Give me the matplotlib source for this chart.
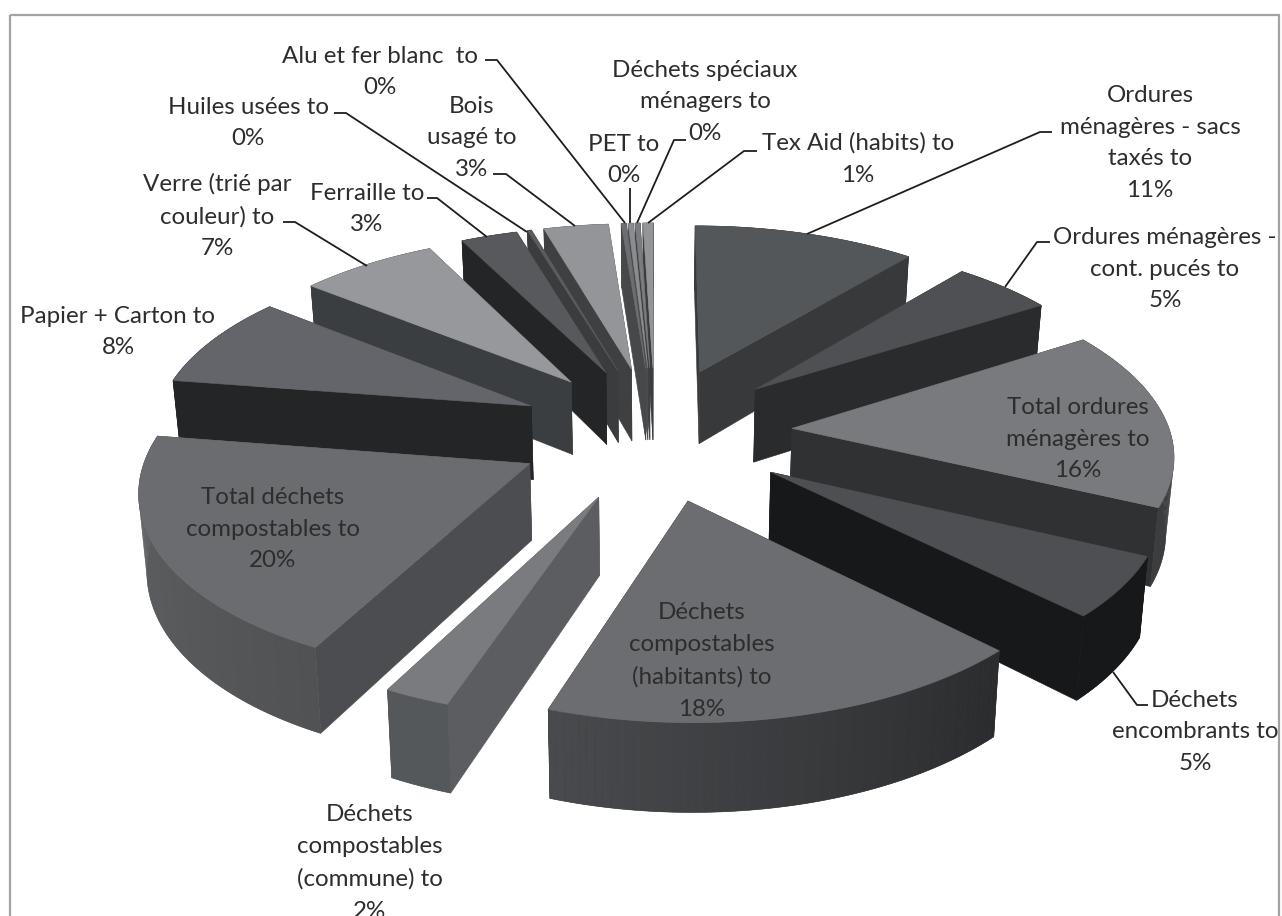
import numpy as np
import matplotlib
matplotlib.use("Agg")
import matplotlib.pyplot as plt
from matplotlib.patches import Polygon, Rectangle

plt.rcParams["font.family"] = ["Lato", "DejaVu Sans"]

# values read from the labels and the slice widths, the 0% ones are small but not nothing
labels = [
    "Ordures\nménagères - sacs\ntaxés to\n11%",
    "Ordures ménagères -\ncont. pucés to\n5%",
    "Total ordures\nménagères to\n16%",
    "Déchets\nencombrants to\n5%",
    "Déchets\ncompostables\n(habitants) to\n18%",
    "Déchets\ncompostables\n(commune) to\n2%",
    "Total déchets\ncompostables to\n20%",
    "Papier + Carton to\n8%",
    "Verre (trié par\ncouleur) to\n7%",
    "Ferraille to\n3%",
    "Huiles usées to\n0%",
    "Bois\nusagé to\n3%",
    "Alu et fer blanc  to\n0%",
    "PET to\n0%",
    "Déchets spéciaux\nménagers to\n0%",
    "Tex Aid (habits) to\n1%",
]
values = [11, 5, 16, 5.4, 17.75, 2.4, 19.8, 8.3, 6.8, 2.8, 0.2, 3.2, 0.25, 0.25, 0.25, 0.5]

top_colors = ["#54575a", "#4e5053", "#797a7e", "#4e4f52", "#6c6d70", "#7a7b7f", "#6b6c6f", "#64656a",
              "#96989b", "#58595c", "#5a5c5f", "#939598", "#6d6e71", "#8a8c8f", "#7a7c7f", "#939598"]
wall_colors = ["#37393b", "#2a2b2d", "#303133", "#17181a", "#2f3032", "#5c5d60", "#4c4d50", "#242527",
               "#3b3e40", "#242527", "#3a3c3e", "#3e4042", "#46484a", "#4a4c4e", "#3e4042", "#3a3c3e"]
rim_start = ["#37393b", "#2a2b2d", "#3c3d3f", "#17181a", "#2b2c2e", "#55585a", "#505254", "#242527",
             "#3b3e40", "#242527", "#3a3c3e", "#3e4042", "#46484a", "#4a4c4e", "#3e4042", "#3a3c3e"]
rim_end = ["#37393b", "#2a2b2d", "#3c3d3f", "#17181a", "#484a4d", "#55585a", "#626366", "#242527",
           "#3b3e40", "#242527", "#3a3c3e", "#3e4042", "#46484a", "#4a4c4e", "#3e4042", "#3a3c3e"]

label_pos = [(1150, 143), (1165, 269), (1078, 439), (1195, 732), (702, 661), (370, 863), (273, 529), (118, 332),
             (217, 216), (367, 209), (248, 123), (472, 138), (380, 72), (624, 160), (705, 102), (858, 159)]

leaders = [
    [(1052, 132), (1040, 132), (807, 234)],
    [(1050, 242), (1037, 242), (1005, 287)],
    [(1148, 705), (1137, 705), (1113, 672)],
    [(283, 222), (295, 222), (367, 266)],
    [(427, 198), (437, 198), (487, 237)],
    [(334, 113), (346, 113), (527, 232)],
    [(493, 174), (506, 174), (575, 226)],
    [(485, 60), (497, 60), (625, 223)],
    [(630, 188), (630, 223)],
    [(686, 140), (674, 140), (637, 223)],
    [(757, 151), (744, 151), (648, 223)],
]

# view of the tilted pie
CX, CY = 655, 432.5
RX, RY = 378, 177
PERSP = 0.12
EXPLODE_U = 0.364
EXPLODE_V = 0.38
DEPTH = 75
TAPER = 0.016


def project(u, v, z=0.0):
    w = 1 + PERSP * v
    return CX + RX * u / w * (1 - TAPER * z), CY - RY * v / w + z * DEPTH / w


def mix(c1, c2, t):
    a = np.array(matplotlib.colors.to_rgb(c1))
    b = np.array(matplotlib.colors.to_rgb(c2))
    return tuple(a + (b - a) * t)


fig = plt.figure(figsize=(12.82, 9.16), dpi=100)
ax = fig.add_axes([0, 0, 1, 1])
ax.set_xlim(0, 1282)
ax.set_ylim(916, 0)
ax.axis("off")

ax.add_patch(Rectangle((10, 15), 1269, 910, fill=False, ec="#a3a3a3", lw=1.6))

vals = np.array(values, dtype=float)
edges = np.concatenate([[0], np.cumsum(vals)]) / vals.sum() * 2 * np.pi
mids = (edges[:-1] + edges[1:]) / 2

# far slices first, near ones on top
order = np.argsort(-np.cos(mids))
for i in order:
    t0, t1, tm = edges[i], edges[i + 1], mids[i]
    du, dv = EXPLODE_U * np.sin(tm), EXPLODE_V * np.cos(tm)
    ts = np.linspace(t0, t1, max(int(np.degrees(t1 - t0)), 2) + 1)
    us = du + np.sin(ts)
    vs = dv + np.cos(ts)

    # the two cut faces
    for t in (t0, t1):
        u, v = du + np.sin(t), dv + np.cos(t)
        wall = [project(du, dv), project(u, v), project(u, v, 1), project(du, dv, 1)]
        ax.add_patch(Polygon(wall, fc=wall_colors[i], ec=wall_colors[i], lw=0.4))

    # rim: one base shape, then strips so it can shade along the arc
    rim = [project(a, b) for a, b in zip(us, vs)] + [project(a, b, 1) for a, b in zip(us[::-1], vs[::-1])]
    base = mix(rim_start[i], rim_end[i], 0.5)
    ax.add_patch(Polygon(rim, fc=base, ec=base, lw=0.4))
    for k in range(len(ts) - 1):
        col = mix(rim_start[i], rim_end[i], k / max(len(ts) - 2, 1))
        strip = [project(us[k], vs[k]), project(us[k + 1], vs[k + 1]),
                 project(us[k + 1], vs[k + 1], 1), project(us[k], vs[k], 1)]
        ax.add_patch(Polygon(strip, fc=col, ec="none"))

    top = [project(du, dv)] + [project(a, b) for a, b in zip(us, vs)]
    ax.add_patch(Polygon(top, fc=top_colors[i], ec=top_colors[i], lw=0.4))

for pts in leaders:
    xs, ys = zip(*pts)
    ax.plot(xs, ys, color="#1e1e1e", lw=1.3, zorder=3, solid_capstyle="butt")

for text, (x, y) in zip(labels, label_pos):
    ax.text(x, y, text, ha="center", va="center", fontsize=17.4, color="#2d2d2d",
            linespacing=1.64, zorder=4, clip_on=True)

fig.savefig("out.png", dpi=100)
